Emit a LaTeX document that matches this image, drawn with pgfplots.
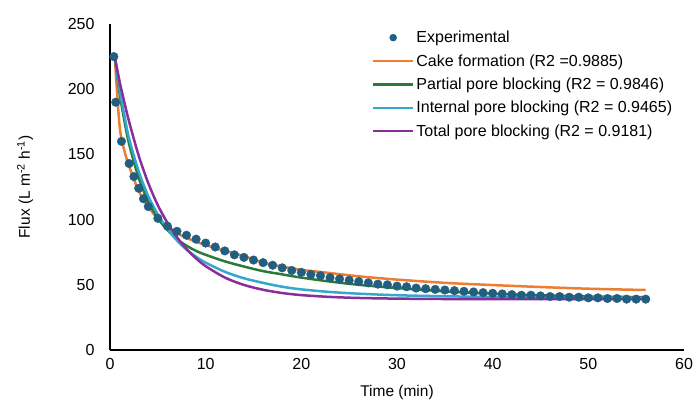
\documentclass[border=0pt]{standalone}
\usepackage{fontspec}
\setmainfont{Liberation Sans}
\usepackage{pgfplots}
\usepackage{pgfplotstable}
\pgfplotsset{compat=1.18}

\definecolor{cDot}{HTML}{215E80}
\definecolor{cCake}{HTML}{ED7D31}
\definecolor{cPartial}{HTML}{2A7A3B}
\definecolor{cInternal}{HTML}{35A7CF}
\definecolor{cTotal}{HTML}{8A2E9B}

\pgfplotsset{
  linelegend/.style={legend image code/.code={\draw[##1] (0pt,0pt) -- (40pt,0pt);}},
  dotlegend/.style={legend image code/.code={\draw[##1, mark size=3.5pt] plot coordinates {(20pt,0pt)};}},
}

% measured flux, L m-2 h-1
\pgfplotstableread{
t J
0.4 225
0.6 190
1.2 160
2 143
2.5 133
3 124
3.5 116
4 110
5 101
6 95
7 91
8 88
9 85
10 82
11 79
12 76
13 73
14 71
15 69
16 67
17 65
18 63
19 61
20 59.5
21 58
22 57
23 55.5
24 54.5
25 53.5
26 52.5
27 51.5
28 50.5
29 50
30 49
31 48.5
32 47.5
33 47
34 46.5
35 46
36 45.5
37 45
38 44.5
39 44
40 43.5
41 43
42 42.5
43 42
44 42
45 41.5
46 41
47 41
48 40.5
49 40.5
50 40
51 40
52 39.5
53 39.5
54 39
55 39
56 39
}\expdata

% model curves: t cake partial internal total
\pgfplotstableread{
t cake partial internal total
0.5 225 225 225 225
1 172 197 200 206
1.5 153 176 180 190
2 141 158 162 175
3 122 132 137 149
4 110 114 118 128
5 100.5 101 104 111
6 94 92 93 97.6
7 89.5 85 84 86.5
8 86 80 77 77.5
9 83 76 71.5 70.2
10 80.5 73 67 64.3
12 76 68 60 55.6
14 72 64 55 49.9
16 67 60.5 51.5 46.2
18 64 58 48.5 43.7
20 61.5 55.5 46.5 42.1
23 59 52.5 44.5 40.7
26 56.5 50 43.2 39.9
30 54 47.5 42 39.4
35 51.5 45 41.2 39.1
40 49.8 43.2 40.7 39
45 48.3 42 40.4 39
50 47 41 40.2 39
56 46 40.5 40 39
}\models

\begin{document}
\begin{tikzpicture}
\path[use as bounding box] (-110pt,-60pt) rectangle (586pt,350pt);
\begin{axis}[
  scale only axis, width=574pt, height=326pt,
  at={(0,0)}, anchor=south west,
  xmin=0, xmax=60, ymin=0, ymax=250,
  xtick={0,10,...,60}, ytick={0,50,...,250},
  axis x line=bottom, axis y line=left,
  axis line style={-, line width=1.5pt},
  major tick length=0pt,
  tick label style={font=\fontsize{16}{19}\selectfont},
  /pgf/number format/assume math mode=true,
  xticklabel style={yshift=-5pt},
  yticklabel style={xshift=-12pt},
  xlabel={Time (min)}, ylabel={Flux (L m\textsuperscript{-2} h\textsuperscript{-1})},
  label style={font=\fontsize{15.5}{18}\selectfont},
  xlabel style={at={(axis description cs:0.5,-0.129)}, anchor=center},
  ylabel style={at={(axis description cs:-0.148,0.5)}, anchor=center},
  legend cell align=left,
  legend style={at={(axis description cs:0.456,0.985)}, anchor=north west,
    draw=none, fill=none, inner sep=0pt, row sep=6.3pt,
    font=\fontsize{16}{19}\selectfont},
]
\addplot[only marks, mark=*, mark size=4.3pt, color=cDot, dotlegend]
  table[x=t, y=J] {\expdata};
\addplot[cCake, line width=2.5pt, smooth, linelegend] table[x=t, y=cake] {\models};
\addplot[cPartial, line width=2.5pt, smooth, linelegend] table[x=t, y=partial] {\models};
\addplot[cInternal, line width=2.5pt, smooth, linelegend] table[x=t, y=internal] {\models};
\addplot[cTotal, line width=2.5pt, smooth, linelegend] table[x=t, y=total] {\models};
\legend{Experimental, Cake formation (R2 =0.9885), Partial pore blocking (R2 = 0.9846),
  Internal pore blocking (R2 = 0.9465), Total pore blocking (R2 = 0.9181)}
\end{axis}
\end{tikzpicture}
\end{document}
